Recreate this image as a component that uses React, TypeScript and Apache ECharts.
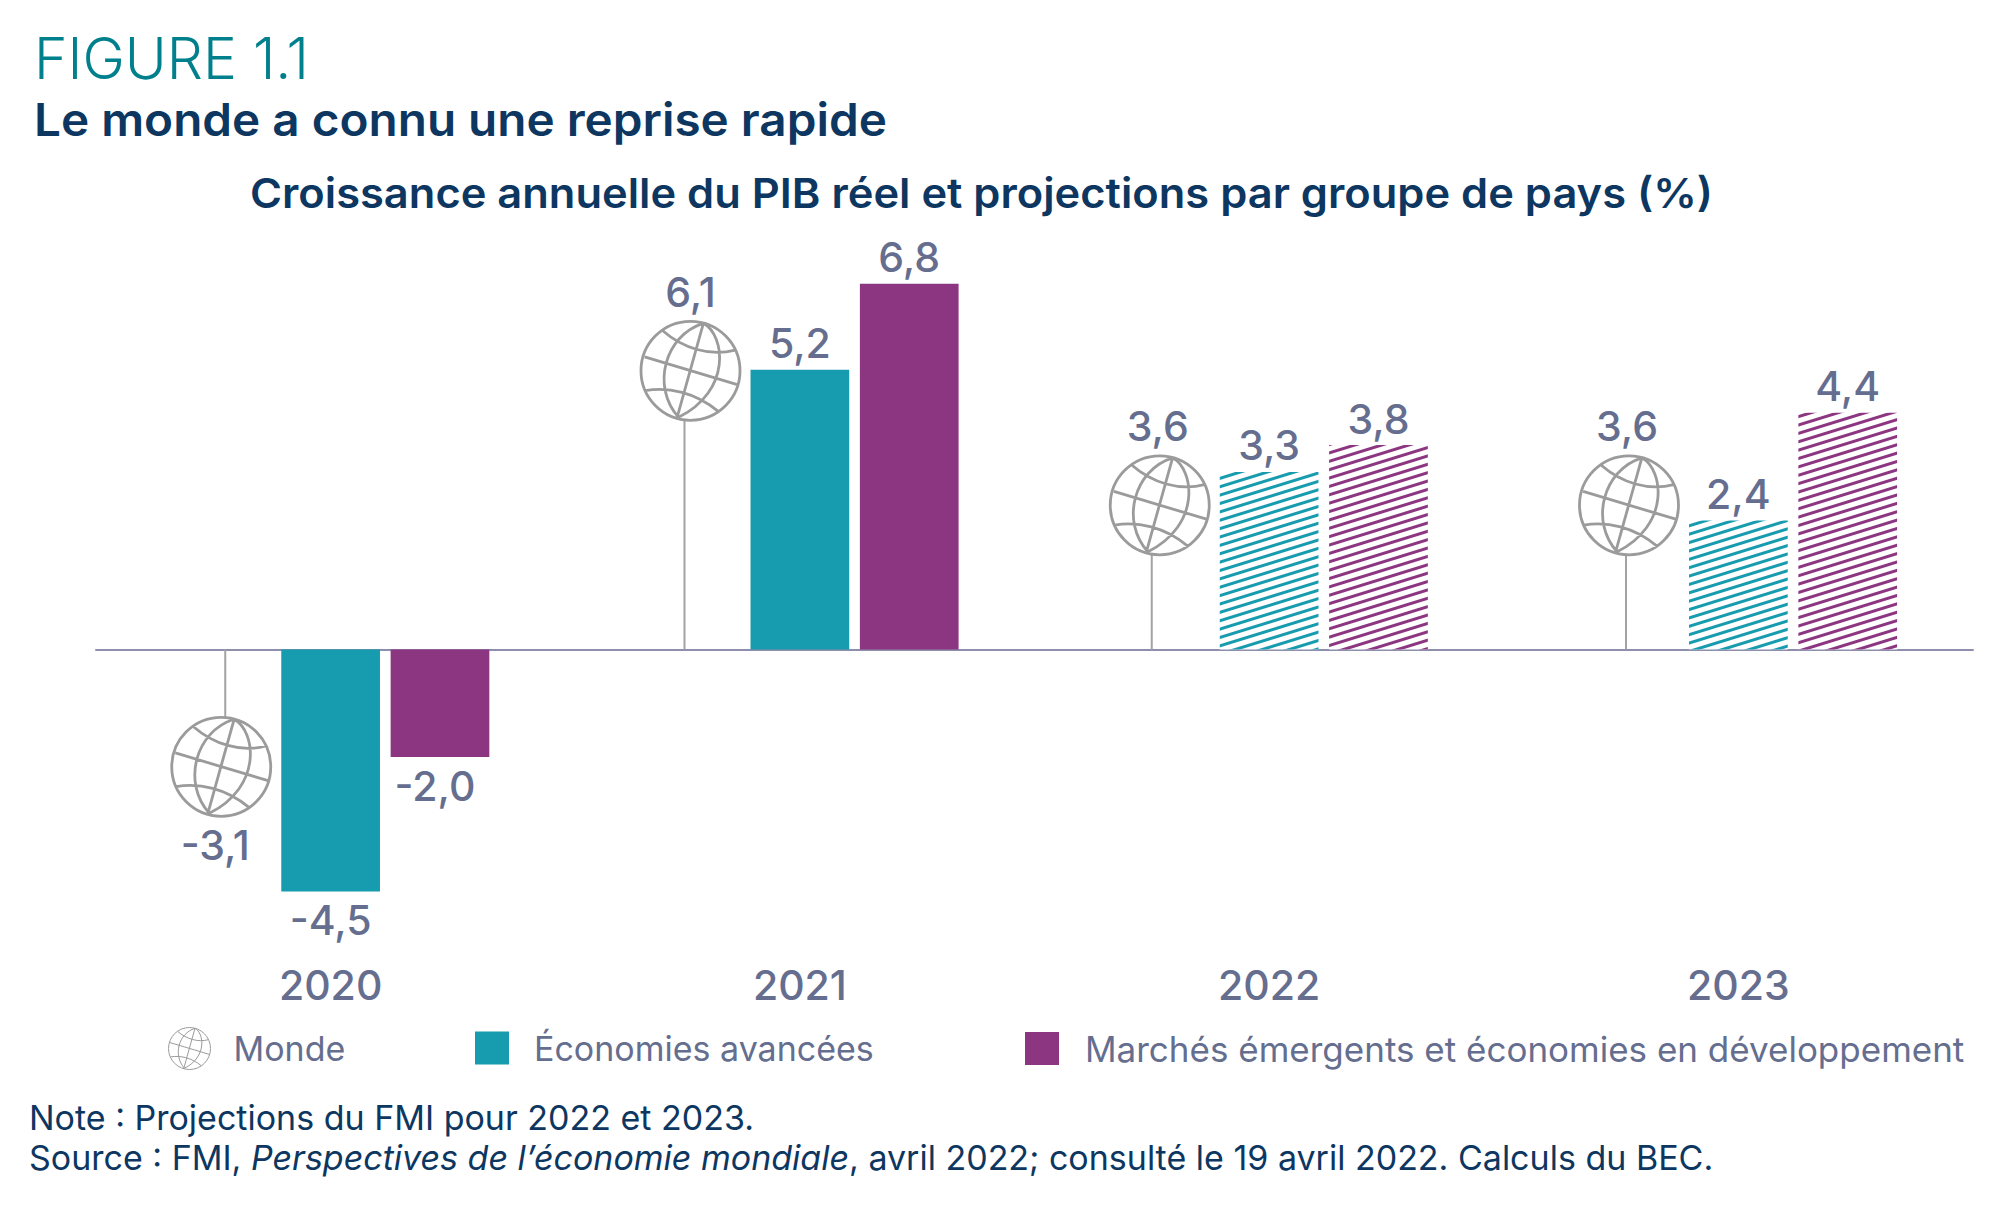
import React, { useEffect, useRef } from "react";
import * as echarts from "echarts";

const categories = ["2020", "2021", "2022", "2023"];
const monde = [-3.1, 6.1, 3.6, 3.6];
const avancees = [-4.5, 5.2, 3.3, 2.4];
const emergents = [-2.0, 6.8, 3.8, 4.4];
const projected = [false, false, true, true];
const stemShift = [4, -6, -8, -3];
const mondeLabelShift = [-6, 0, -2, -2];
const barLabelShift = [-5, 0, 0, 0];

const TEAL = "#179bae";
const PURPLE = "#8c3580";
const SLATE = "#656e8f";
const NAVY = "#0d3761";
const GREY = "#9b9b9b";
const FONT = "Inter";

const GLOBE =
  "M100 50A50 50 0 1 1 0 50A50 50 0 1 1 100 50Z" +
  "M22 9.5C42 27 70 36 95 29" +
  "M3.7 36L97.3 64" +
  "M4.5 70C28 66 55 72 78 91" +
  "M63 2L36.5 97" +
  "M63 2C24 14 10 66 38 97" +
  "M63 2C85 14 92 70 38 97";

const fmt = (v: number) => v.toFixed(1).replace(".", ",");

const barData = (values: number[], color: string, shifts?: number[]) =>
  values.map((v, i) => ({
    value: v,
    itemStyle: projected[i]
      ? {
          color: "#ffffff",
          decal: {
            symbol: "rect",
            color,
            dashArrayX: [1, 0],
            dashArrayY: [2.4, 4.4],
            symbolSize: 1,
            rotation: -0.3,
          },
        }
      : { color },
    label: {
      position: v < 0 ? "bottom" : "top",
      distance: v < 0 ? 8 : 6,
      offset: [shifts ? shifts[i] : 0, 0],
    },
  }));

const barSeries = (name: string, values: number[], color: string, shifts?: number[]) => ({
  type: "bar",
  name,
  barWidth: 98.7,
  barGap: "10.8%",
  itemStyle: { color },
  data: barData(values, color, shifts),
  label: {
    show: true,
    color: SLATE,
    fontFamily: FONT,
    fontSize: 41,
    fontWeight: 500,
    formatter: (p: any) => fmt(p.value),
  },
});

const renderMonde = (params: any, api: any) => {
  const i = api.value(0);
  const v = api.value(1);
  const band = api.size([1, 0])[0];
  const cx = api.coord([i, 0])[0] - band * 0.2331;
  const y0 = api.coord([i, 0])[1];
  const yv = api.coord([i, v])[1];
  const d = 99;
  const top = v >= 0 ? yv : yv - d;
  const stemX = cx + stemShift[i];
  const stemEnd = v >= 0 ? top + d : top;
  const labelY = v >= 0 ? top - 9 : top + d + 8;
  return {
    type: "group",
    children: [
      {
        type: "line",
        shape: { x1: stemX, y1: y0, x2: stemX, y2: stemEnd },
        style: { stroke: "#a3a3a3", lineWidth: 2 },
      },
      {
        type: "path",
        shape: { pathData: GLOBE, x: cx - d / 2, y: top, width: d, height: d, layout: "center" },
        style: { fill: "none", stroke: GREY, lineWidth: 2.8 },
      },
      {
        type: "text",
        style: {
          text: fmt(v),
          x: cx + mondeLabelShift[i],
          y: labelY,
          align: "center",
          verticalAlign: v >= 0 ? "bottom" : "top",
          textAlign: "center",
          textVerticalAlign: v >= 0 ? "bottom" : "top",
          fill: SLATE,
          fontFamily: FONT,
          fontSize: 41,
          fontWeight: 500,
        },
      },
    ],
  };
};

export default function App() {
  const ref = useRef<HTMLDivElement>(null);
  useEffect(() => {
    document.body.style.margin = "0";
    document.body.style.overflow = "hidden";
    const chart = echarts.init(ref.current!, null, { renderer: "svg" });
    const legendText = (pad: number, size: number) => ({
      color: SLATE,
      fontFamily: FONT,
      fontSize: size,
      fontWeight: 400,
      padding: [0, 0, 0, pad],
    });
    chart.setOption({
      animation: false,
      backgroundColor: "#ffffff",
      title: [
        { text: "FIGURE 1.1", left: 29, top: 25, textStyle: { color: "#00808c", fontFamily: FONT, fontSize: 57, fontWeight: 300 } },
        {
          text: "Note : Projections du FMI pour 2022 et 2023.\nSource : FMI, {i|Perspectives de l’économie mondiale}, avril 2022; consulté le 19 avril 2022. Calculs du BEC.",
          left: 24,
          top: 1092,
          textStyle: {
            color: NAVY,
            fontFamily: FONT,
            fontSize: 34,
            fontWeight: 400,
            lineHeight: 40,
            rich: { i: { fontStyle: "italic", color: NAVY, fontFamily: FONT, fontSize: 34, lineHeight: 40 } },
          },
        },
      ],
      graphic: [
        {
          type: "text",
          x: 34,
          y: 97,
          scaleX: 1.06,
          style: { text: "Le monde a connu une reprise rapide", fill: NAVY, fontFamily: FONT, fontSize: 45, fontWeight: 600 },
        },
        {
          type: "text",
          x: 250,
          y: 172,
          scaleX: 1.06,
          style: { text: "Croissance annuelle du PIB réel et projections par groupe de pays (%)", fill: NAVY, fontFamily: FONT, fontSize: 41, fontWeight: 600 },
        },
      ],
      legend: [
        { left: 161, top: 1020, itemWidth: 42, itemHeight: 42, data: [{ name: "Monde", icon: "path://" + GLOBE, itemStyle: { color: "none", borderColor: GREY, borderWidth: 1 } }], textStyle: legendText(18, 34), selectedMode: false },
        { left: 470, top: 1026, itemWidth: 34, itemHeight: 33, data: [{ name: "Économies avancées", icon: "rect" }], textStyle: legendText(20, 34), selectedMode: false },
        { left: 1020, top: 1026, itemWidth: 34, itemHeight: 33, data: [{ name: "Marchés émergents et économies en développement", icon: "rect" }], textStyle: legendText(21, 35), selectedMode: false },
      ],
      grid: { left: 96, width: 1877, top: 219.1, height: 753.2, containLabel: false },
      xAxis: [
        {
          type: "category",
          data: categories,
          position: "bottom",
          axisLine: { show: false, onZero: false },
          axisTick: { show: false },
          axisLabel: { color: SLATE, fontFamily: FONT, fontSize: 41, fontWeight: 500, margin: -8 },
        },
        {
          type: "category",
          data: categories,
          position: "bottom",
          axisLine: { show: true, onZero: true, lineStyle: { color: "#8d8fac", width: 2 } },
          axisTick: { show: false },
          axisLabel: { show: false },
        },
      ],
      yAxis: { type: "value", min: -6, max: 8, show: false, splitLine: { show: false } },
      series: [
        { type: "bar", name: "MondeSlot", barWidth: 98.7, barGap: "10.8%", data: [] },
        {
          type: "custom",
          name: "Monde",
          renderItem: renderMonde,
          data: monde.map((v, i) => [i, v]),
          encode: { x: 0, y: 1 },
          clip: false,
          z: 3,
        },
        barSeries("Économies avancées", avancees, TEAL),
        barSeries("Marchés émergents et économies en développement", emergents, PURPLE, barLabelShift),
      ],
    });
    return () => chart.dispose();
  }, []);
  return <div ref={ref} style={{ width: 2009, height: 1209 }} />;
}
